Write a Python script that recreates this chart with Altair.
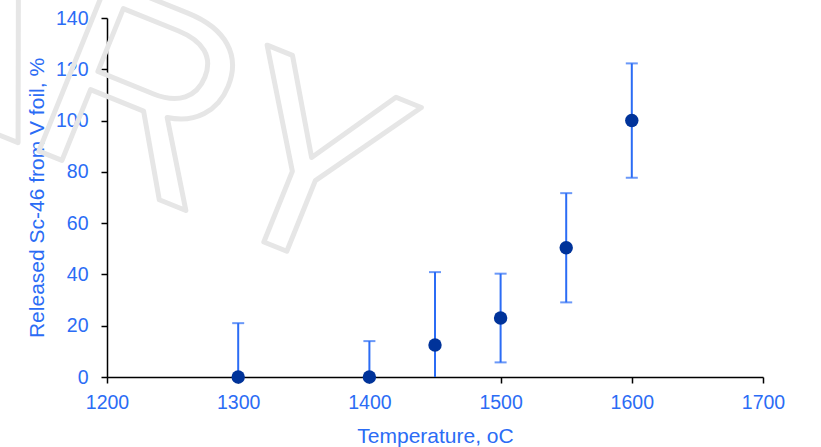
import altair as alt
import pandas as pd

# Release of Sc-46 from vanadium foil versus annealing temperature
temperature = [1300, 1400, 1450, 1500, 1550, 1600]
released = [0, 0, 12.5, 23.0, 50.4, 100.0]
error = [21.0, 14.0, 28.4, 17.3, 21.3, 22.3]

df = pd.DataFrame({"temperature": temperature, "released": released, "error": error})
df["lo"] = df["released"] - df["error"]
df["hi"] = df["released"] + df["error"]

BLUE = "#2b6cf5"
NAVY = "#00339a"
FONT = "Liberation Sans"

x = alt.X(
    "temperature:Q",
    scale=alt.Scale(domain=[1200, 1700], nice=False, zero=False),
    axis=alt.Axis(
        title="Temperature, oC",
        values=[1200, 1300, 1400, 1500, 1600, 1700],
        format="d",
        titleX=328,
        titleY=48,
    ),
)
y_axis = alt.Axis(
    title="Released Sc-46 from V foil, %",
    values=[0, 20, 40, 60, 80, 100, 120, 140],
    titleX=-60,
    titleY=179.5,
)
y_scale = alt.Scale(domain=[0, 140], nice=False)

base = alt.Chart(df)

bars = base.mark_rule(color=BLUE, strokeWidth=2, clip=True).encode(
    x=x,
    y=alt.Y("lo:Q", scale=y_scale, axis=y_axis),
    y2="hi:Q",
)
caps_hi = base.mark_tick(color=BLUE, orient="horizontal", size=12, thickness=2, clip=True).encode(
    x="temperature:Q", y="hi:Q"
)
caps_lo = base.mark_tick(color=BLUE, orient="horizontal", size=12, thickness=2, clip=True).encode(
    x="temperature:Q", y="lo:Q"
)
points = base.mark_circle(color=NAVY, size=180, opacity=1).encode(
    x="temperature:Q", y="released:Q"
)

# Outlined diagonal stamp across the upper left of the plot
watermark = alt.Chart(pd.DataFrame({"t": ["PRELIMINARY"]})).mark_text(
    font=FONT,
    fontSize=267,
    angle=22,
    align="right",
    baseline="alphabetic",
    fill="transparent",
    fillOpacity=0,
    stroke="#e6e6e6",
    strokeWidth=5,
    strokeJoin="round",
).encode(text="t:N", x=alt.value(251), y=alt.value(262))

chart = (
    alt.layer(bars, caps_hi, caps_lo, points, watermark)
    .properties(
        width=656,
        height=359,
        autosize=alt.AutoSizeParams(type="none"),
        padding={"left": 107, "top": 18, "right": 58, "bottom": 70},
        background="white",
    )
    .configure_view(strokeWidth=0)
    .configure_axis(
        grid=False,
        labelFlush=False,
        domainColor="black",
        domainWidth=1.5,
        tickColor="black",
        tickWidth=1.5,
        tickSize=6,
        labelColor=BLUE,
        labelFont=FONT,
        labelFontSize=19.5,
        titleColor=BLUE,
        titleFont=FONT,
        titleFontSize=21,
        titleFontWeight="normal",
    )
    .configure_axisY(labelPadding=13)
    .configure_axisX(labelPadding=10)
)

chart.save("out.html", embed_options={"renderer": "svg", "actions": False})
